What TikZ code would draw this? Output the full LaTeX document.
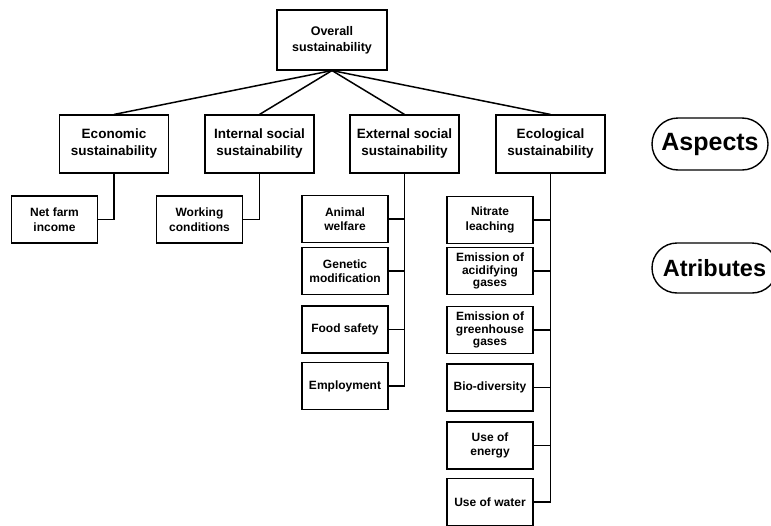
\documentclass[tikz,border=0pt]{standalone}
\usepackage{fontspec}
\setmainfont{Liberation Sans}
\usetikzlibrary{shapes.misc}
\begin{document}
\begin{tikzpicture}[x=1pt,y=-1pt,
  box/.style={draw, line width=1.1pt, inner sep=0pt, align=center},
  topbox/.style={box, minimum width=110pt, minimum height=60pt, font=\fontsize{12.5}{16}\selectfont\bfseries},
  aspectbox/.style={box, minimum width=109pt, minimum height=58pt, font=\fontsize{13.5}{17}\selectfont\bfseries},
  attrbox/.style={box, minimum width=86pt, minimum height=47pt, font=\fontsize{12}{14.5}\selectfont\bfseries},
  attrthree/.style={attrbox, font=\fontsize{12}{12.5}\selectfont\bfseries},
  link/.style={line width=1.5pt},
  pill/.style={draw, line width=1.4pt, rounded rectangle, inner sep=0pt}
]
\useasboundingbox (0,0) rectangle (771,525);
\clip (0,0) rectangle (771,525);

\node[topbox] (top) at (332,40) {Overall\\sustainability};

\node[aspectbox] (eco) at (114,144) {Economic\\sustainability};
\node[aspectbox] (int) at (259.5,144) {Internal social\\sustainability};
\node[aspectbox] (ext) at (404.5,144) {External social\\sustainability};
\node[aspectbox] (ecl) at (550.5,144) {Ecological\\sustainability};

\node[attrbox] (net) at (54.5,219.5) {Net farm\\income};
\node[attrbox] (work) at (199.5,219.5) {Working\\conditions};

\node[attrbox] (anim) at (345,219) {Animal\\welfare};
\node[attrbox] (gen) at (345,271) {Genetic\\modification};
\node[attrbox] (food) at (345,329.5) {Food safety};
\node[attrbox] (emp) at (345,386) {Employment};

\node[attrbox] (nit) at (490,220) {Nitrate\\leaching};
\node[attrthree] (acid) at (490,271) {Emission of\\acidifying\\gases};
\node[attrthree] (green) at (490,330) {Emission of\\greenhouse\\gases};
\node[attrbox] (bio) at (490,387.5) {Bio-diversity};
\node[attrbox] (energy) at (490,445.5) {Use of\\energy};
\node[attrbox] (water) at (490,502) {Use of water};

\node[pill, minimum width=116pt, minimum height=52pt, font=\fontsize{25}{28}\selectfont\bfseries] (aspects) at (710,144) {Aspects};
\node[pill, minimum width=125pt, minimum height=50pt, font=\fontsize{23.5}{26}\selectfont\bfseries] (attribs) at (714.5,268) {Atributes};

\foreach \a in {eco,int,ext,ecl}
  \draw[link] (top.south) -- (\a.north);

\draw[link] (eco.south) |- (net.east);
\draw[link] (int.south) |- (work.east);
\foreach \c in {anim,gen,food,emp}
  \draw[link] (ext.south) |- (\c.east);
\foreach \c in {nit,acid,green,bio,energy,water}
  \draw[link] (ecl.south) |- (\c.east);
\end{tikzpicture}
\end{document}
